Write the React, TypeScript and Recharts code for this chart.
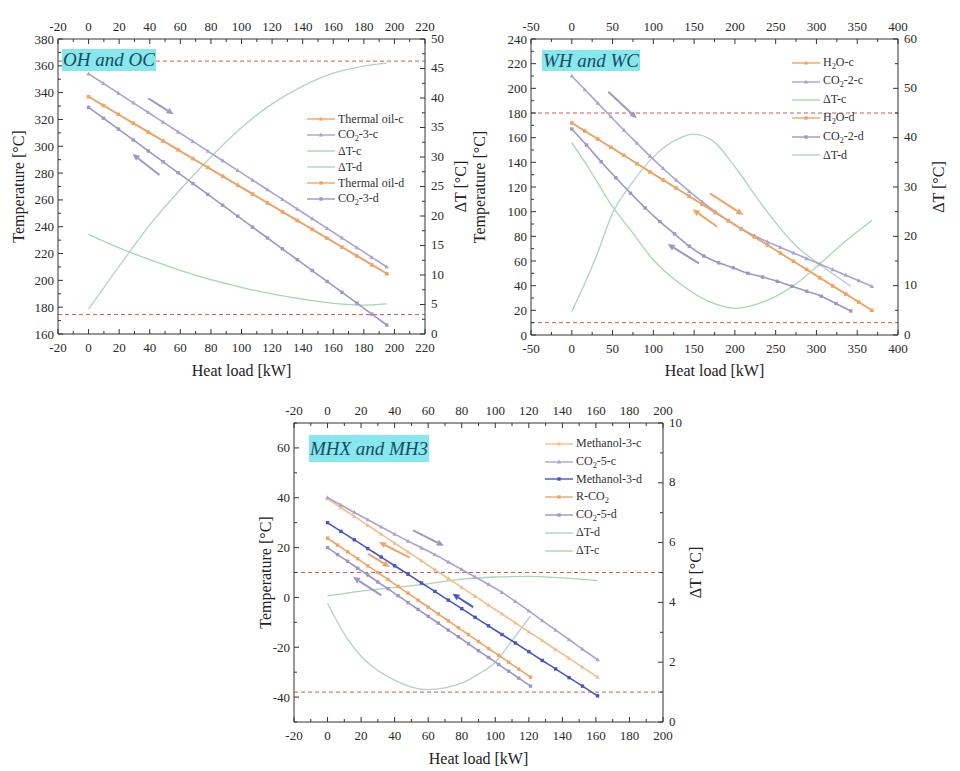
import React from 'react';
import { ComposedChart, Line, XAxis, YAxis, ReferenceLine } from 'recharts';

// ---------- OH and OC ----------
const ohLoad = [0, 9.75, 19.5, 29.25, 39, 48.75, 58.5, 68.25, 78, 87.75, 97.5, 107.25, 117, 126.75, 136.5, 146.25, 156, 165.75, 175.5, 185.25, 195];
const ohThermalOil = [337, 330.4, 323.8, 317.2, 310.6, 304, 297.4, 290.8, 284.2, 277.6, 271, 264.4, 257.8, 251.2, 244.6, 238, 231.4, 224.8, 218.2, 211.6, 205];
const ohCo2c = [354, 346.8, 339.6, 332.4, 325.2, 318, 310.8, 303.6, 296.4, 289.2, 282, 274.8, 267.6, 260.4, 253.2, 246, 238.8, 231.6, 224.4, 217.2, 210];
const ohCo2d = [329, 320.9, 312.8, 304.7, 296.5, 288.4, 280.3, 272.2, 264.1, 256, 247.9, 239.7, 231.6, 223.5, 215.4, 207.3, 199.2, 191.1, 183, 174.8, 166.7];
const ohDtLoad = [0, 20, 40, 60, 80, 100, 120, 140, 160, 180, 195];
const ohDtC = [16.9, 14.6, 12.6, 10.8, 9.2, 7.9, 6.8, 5.9, 5.2, 4.9, 5.1];
const ohDtD = [4.2, 11.5, 18.5, 24.5, 30, 35, 39, 42, 44.2, 45.4, 45.9];
const ohLimits = [363.5, 174.5];
const ohXTicks = [-20, 0, 20, 40, 60, 80, 100, 120, 140, 160, 180, 200, 220];
const ohTTicks = [160, 180, 200, 220, 240, 260, 280, 300, 320, 340, 360, 380];
const ohDtTicks = [0, 5, 10, 15, 20, 25, 30, 35, 40, 45, 50];

// ---------- WH and WC ----------
const whLoad = [0, 16, 32, 48, 64, 80, 96, 112, 128, 144, 160, 176, 192, 208, 224, 240, 256, 272, 288, 304, 320, 336, 352, 368];
const whH2O = [172, 165.4, 158.8, 152.2, 145.6, 139, 132.3, 125.7, 119.1, 112.5, 105.9, 99.3, 92.7, 86.1, 79.5, 72.9, 66.3, 59.7, 53.1, 46.4, 39.8, 33.2, 26.6, 20];
const whCo2c = [210, 199, 188, 177, 166, 155.5, 145, 135, 125.5, 116.5, 108, 100, 92.5, 86, 80.5, 75.5, 71, 66.5, 62, 57.5, 53, 48.5, 44, 39.5];
const whLoadD = [0, 18, 36, 54, 72, 90, 108, 126, 144, 162, 180, 198, 216, 234, 252, 270, 288, 306, 324, 342];
const whCo2d = [167, 154, 140.5, 127.5, 115, 103, 92, 82, 72, 64, 58.5, 54.5, 50, 47, 43.5, 39.5, 35.5, 31.5, 25.5, 19.5];
const whDtLoadC = [0, 22, 50, 72, 100, 132, 174, 200, 235, 276, 300, 337, 368];
const whDtC = [39, 33.5, 26, 21.3, 15.2, 10.5, 6.4, 5.4, 6.7, 10.5, 13.8, 19.2, 23.2];
const whDtLoadD = [0, 30, 50, 72, 100, 132, 149, 174, 200, 235, 276, 300, 342];
const whDtD = [4.7, 15.9, 24.7, 30.4, 36.1, 39.9, 40.7, 39.2, 34.1, 26, 17.9, 14.8, 9.9];
const whLimits = [180, 10];
const whXTicks = [-50, 0, 50, 100, 150, 200, 250, 300, 350, 400];
const whTTicks = [0, 20, 40, 60, 80, 100, 120, 140, 160, 180, 200, 220, 240];
const whDtTicks = [0, 10, 20, 30, 40, 50, 60];

// ---------- MHX and MH3 ----------
const mhLoadLong = [0, 8, 16, 24, 32, 40, 48, 56, 64, 72, 80, 88, 96, 104, 112, 120, 128, 136, 144, 152, 161];
const mhMethanol3c = [39.6, 36, 32.5, 28.9, 25.4, 21.8, 18.3, 14.7, 11.1, 7.6, 4, 0.5, -3.1, -6.6, -10.2, -13.8, -17.3, -20.9, -24.4, -28, -32];
const mhCo25c = [40, 37.1, 34.1, 31.2, 28.3, 25.4, 22.6, 19.9, 17.2, 14.2, 11.2, 8.2, 5.2, 2, -1.6, -5.4, -9.3, -13.1, -16.9, -20.8, -25];
const mhMethanol3d = [30, 26.5, 23.1, 19.6, 16.2, 12.7, 9.3, 5.8, 2.4, -1.1, -4.5, -8, -11.4, -14.9, -18.3, -21.8, -25.3, -28.7, -32.2, -35.6, -39.5];
const mhLoadShort = [0, 6, 12, 18, 24, 30, 36, 42, 48, 54, 60, 66, 72, 78, 84, 90, 96, 102, 108, 114, 121];
const mhRCo2 = [23.8, 21, 18.3, 15.5, 12.7, 10, 7.2, 4.4, 1.7, -1.1, -3.9, -6.6, -9.4, -12.2, -14.9, -17.7, -20.5, -23.2, -26, -28.8, -32];
const mhCo25d = [20, 17.2, 14.5, 11.7, 9, 6.2, 3.5, 0.7, -2.1, -4.8, -7.6, -10.3, -13.1, -15.8, -18.6, -21.4, -24.1, -26.9, -29.6, -32.4, -35.6];
const mhDtLoadD = [0, 10, 20, 30, 40, 50, 60, 70, 80, 90, 100, 110, 121];
const mhDtD = [3.97, 2.95, 2.2, 1.72, 1.4, 1.17, 1.08, 1.14, 1.3, 1.6, 2.0, 2.72, 3.55];
const mhDtLoadC = [0, 20, 40, 60, 80, 100, 120, 140, 161];
const mhDtC = [4.22, 4.38, 4.5, 4.62, 4.78, 4.85, 4.87, 4.82, 4.73];
const mhLimits = [10, -38];
const mhXTicks = [-20, 0, 20, 40, 60, 80, 100, 120, 140, 160, 180, 200];
const mhTTicks = [-40, -20, 0, 20, 40, 60];
const mhDtTicks = [0, 2, 4, 6, 8, 10];

// direction arrows [fromLoad, fromT, toLoad, toT, colour]
const ohArrows = [[38.9, 335.8, 55.6, 323.8, 'p'], [46.4, 278.6, 28.7, 294.2, 'p']];
const whArrows = [[44.8, 197.3, 79.6, 175.7, 'p'], [169.4, 114.9, 210.3, 97.3, 'o'], [178.4, 87.8, 148.2, 101.9, 'o'], [155.9, 58.1, 117.6, 73.8, 'p']];
const mhArrows = [[51, 26.9, 69.3, 20.7, 'p'], [49, 16, 30.7, 22.2, 'o'], [24.2, 17.5, 37.1, 12.2, 'o'], [32.1, 0.8, 15.2, 8.2, 'p'], [86.8, -3.9, 74.5, 1.5, 'b']];

const FONT = "Liberation Serif, Times New Roman, serif";
const ORANGE = '#eea465';
const ORANGE_L = '#f2bf8c';
const PURPLE = '#a8a4d0';
const PURPLE_D = '#9c97c6';
const BLUE = '#4657c4';
const GREEN = '#a6d7ae';
const GREEN2 = '#b3d0cb';
const RED = '#cc5a5a';
const ARROW_COL: Record<string, string> = { p: PURPLE_D, o: ORANGE, b: BLUE };

type Marker = 'tri' | 'sq' | null;
type Series = { name: string; xs: number[]; ys: number[]; color: string; axis: 'l' | 'r'; marker: Marker };

const makeDot = (shape: Marker, color: string) => (p: any) => {
  const { cx, cy, index } = p;
  if (cx == null || cy == null) return <g key={`n${index}`} />;
  if (shape === 'tri') {
    return <polygon key={`d${index}`} points={`${cx},${cy - 2.4} ${cx - 2.2},${cy + 1.6} ${cx + 2.2},${cy + 1.6}`} fill={color} />;
  }
  return <rect key={`d${index}`} x={cx - 1.7} y={cy - 1.7} width={3.4} height={3.4} fill={color} />;
};

const allTicks = (domain: number[], majors: number[]) => {
  const step = (majors[1] - majors[0]) / 2;
  let start = majors[0];
  while (start - step >= domain[0] - 1e-9) start -= step;
  const out: number[] = [];
  for (let v = start; v <= domain[1] + 1e-9; v += step) out.push(Math.round(v * 1000) / 1000);
  return out;
};

const tickRenderer = (side: 'top' | 'bottom' | 'left' | 'right', majors: number[]) => (p: any) => {
  const { x, y, payload } = p;
  const v = payload.value;
  const major = majors.some((m) => Math.abs(m - v) < 1e-6);
  const len = major ? 5 : 3;
  const tp = { fontFamily: FONT, fontSize: 13, fill: '#2a2a2a' };
  let line: React.ReactNode = null;
  let text: React.ReactNode = null;
  if (side === 'bottom') {
    line = <line x1={x} y1={y} x2={x} y2={y - len} stroke="#333" />;
    if (major) text = <text x={x} y={y + 13} textAnchor="middle" dominantBaseline="central" {...tp}>{v}</text>;
  } else if (side === 'top') {
    line = <line x1={x} y1={y} x2={x} y2={y + len} stroke="#333" />;
    if (major) text = <text x={x} y={y - 13} textAnchor="middle" dominantBaseline="central" {...tp}>{v}</text>;
  } else if (side === 'left') {
    line = <line x1={x} y1={y} x2={x + len} y2={y} stroke="#333" />;
    if (major) text = <text x={x - 4} y={y} textAnchor="end" dominantBaseline="central" {...tp}>{v}</text>;
  } else {
    line = <line x1={x} y1={y} x2={x - len} y2={y} stroke="#333" />;
    if (major) text = <text x={x + 6} y={y - 1} textAnchor="start" dominantBaseline="central" {...tp}>{v}</text>;
  }
  return <g>{line}{text}</g>;
};

const ArrowShape = (p: any) => {
  const { x1, y1, x2, y2, stroke } = p;
  if ([x1, y1, x2, y2].some((n) => n == null || isNaN(n))) return <g />;
  const ang = Math.atan2(y2 - y1, x2 - x1);
  const L = 7;
  const W = 3.2;
  const bx = x2 - L * Math.cos(ang);
  const by = y2 - L * Math.sin(ang);
  const px = -Math.sin(ang) * W;
  const py = Math.cos(ang) * W;
  return (
    <g>
      <line x1={x1} y1={y1} x2={bx} y2={by} stroke={stroke} strokeWidth={2} />
      <polygon points={`${x2},${y2} ${bx + px},${by + py} ${bx - px},${by - py}`} fill={stroke} />
    </g>
  );
};

const fmtName = (name: string) =>
  name.split(/(CO2|H2O)/).map((part, i) => {
    if (part === 'CO2') return <span key={i}>CO<sub style={{ fontSize: '0.7em' }}>2</sub></span>;
    if (part === 'H2O') return <span key={i}>H<sub style={{ fontSize: '0.7em' }}>2</sub>O</span>;
    return <span key={i}>{part}</span>;
  });

type PanelProps = {
  box: { left: number; top: number; width: number; height: number };
  axesSize: { l: number; r: number; t: number; b: number };
  xDomain: number[]; xTicks: number[];
  tDomain: number[]; tTicks: number[];
  dDomain: number[]; dTicks: number[];
  series: Series[]; legendOrder: string[];
  limits: number[]; arrows: any[];
  titleOffsets: { l: number; r: number; b: number };
  tag: { text: string; left: number; top: number; width: number; height: number };
  legend: { left: number; top: number; rowH: number };
};

const Panel = (P: PanelProps) => {
  const titleStyle = { fontFamily: FONT, fontSize: 16, fill: '#222', textAnchor: 'middle' as const };
  const byName = Object.fromEntries(P.series.map((s) => [s.name, s]));
  return (
    <>
      <div style={{ position: 'absolute', left: P.box.left, top: P.box.top, fontFamily: FONT }}>
        <ComposedChart width={P.box.width} height={P.box.height} margin={{ top: 0, right: 0, bottom: 0, left: 0 }} style={{ fontFamily: FONT }}>
          <XAxis xAxisId="b" dataKey="x" type="number" orientation="bottom" domain={P.xDomain} allowDataOverflow
            ticks={allTicks(P.xDomain, P.xTicks)} interval={0} height={P.axesSize.b} tickSize={0} tickMargin={0}
            tickLine={false} axisLine={{ stroke: '#333' }} tick={tickRenderer('bottom', P.xTicks)}
            label={{ value: 'Heat load [kW]', position: 'insideBottom', offset: P.titleOffsets.b, style: titleStyle }} />
          <XAxis xAxisId="t" dataKey="x" type="number" orientation="top" domain={P.xDomain} allowDataOverflow
            ticks={allTicks(P.xDomain, P.xTicks)} interval={0} height={P.axesSize.t} tickSize={0} tickMargin={0}
            tickLine={false} axisLine={{ stroke: '#333' }} tick={tickRenderer('top', P.xTicks)} />
          <YAxis yAxisId="l" type="number" orientation="left" domain={P.tDomain} allowDataOverflow
            ticks={allTicks(P.tDomain, P.tTicks)} interval={0} width={P.axesSize.l} tickSize={0} tickMargin={0}
            tickLine={false} axisLine={{ stroke: '#333' }} tick={tickRenderer('left', P.tTicks)}
            label={{ value: 'Temperature [°C]', angle: -90, position: 'insideLeft', offset: P.titleOffsets.l, style: titleStyle }} />
          <YAxis yAxisId="r" type="number" orientation="right" domain={P.dDomain} allowDataOverflow
            ticks={allTicks(P.dDomain, P.dTicks)} interval={0} width={P.axesSize.r} tickSize={0} tickMargin={0}
            tickLine={false} axisLine={{ stroke: '#333' }} tick={tickRenderer('right', P.dTicks)}
            label={{ value: 'ΔT [°C]', angle: -90, position: 'insideRight', offset: P.titleOffsets.r, style: titleStyle }} />
          {P.limits.map((v, i) => (
            <ReferenceLine key={`lim${i}`} xAxisId="b" yAxisId="l" y={v} stroke={RED} strokeDasharray="4 3" strokeWidth={1} />
          ))}
          {P.series.filter((s) => s.axis === 'r').concat(P.series.filter((s) => s.axis === 'l')).map((s) => (
            <Line key={s.name} name={s.name} xAxisId="b" yAxisId={s.axis} dataKey="y" type="monotone"
              data={s.xs.map((x, i) => ({ x, y: s.ys[i] }))} stroke={s.color} strokeWidth={s.axis === 'r' ? 1.3 : 1.6}
              dot={s.marker ? makeDot(s.marker, s.color) : false} activeDot={false} isAnimationActive={false} />
          ))}
          {P.arrows.map((a, i) => (
            <ReferenceLine key={`arr${i}`} xAxisId="b" yAxisId="l" segment={[{ x: a[0], y: a[1] }, { x: a[2], y: a[3] }]}
              stroke={ARROW_COL[a[4]]} shape={ArrowShape} />
          ))}
        </ComposedChart>
      </div>
      <div style={{
        position: 'absolute', left: P.tag.left, top: P.tag.top, width: P.tag.width, height: P.tag.height,
        background: '#86e7ed', fontFamily: FONT, fontStyle: 'italic', fontSize: 19, color: '#1d4a63',
        display: 'flex', alignItems: 'center', justifyContent: 'center', whiteSpace: 'nowrap',
      }}>{P.tag.text}</div>
      <div style={{ position: 'absolute', left: P.legend.left, top: P.legend.top, fontFamily: FONT, fontSize: 12, color: '#333' }}>
        {P.legendOrder.map((n) => {
          const s = byName[n];
          return (
            <div key={n} style={{ display: 'flex', alignItems: 'center', height: P.legend.rowH, whiteSpace: 'nowrap' }}>
              <svg width={28} height={10} style={{ marginRight: 3 }}>
                <line x1={0} y1={5} x2={28} y2={5} stroke={s.color} strokeWidth={1.4} />
                {s.marker === 'tri' && <polygon points="14,2.6 11.8,6.6 16.2,6.6" fill={s.color} />}
                {s.marker === 'sq' && <rect x={12.3} y={3.3} width={3.4} height={3.4} fill={s.color} />}
              </svg>
              <span>{fmtName(n)}</span>
            </div>
          );
        })}
      </div>
    </>
  );
};

const ohSeries: Series[] = [
  { name: 'Thermal oil-c', xs: ohLoad, ys: ohThermalOil, color: ORANGE, axis: 'l', marker: 'tri' },
  { name: 'CO2-3-c', xs: ohLoad, ys: ohCo2c, color: PURPLE, axis: 'l', marker: 'tri' },
  { name: 'ΔT-c', xs: ohDtLoad, ys: ohDtC, color: GREEN, axis: 'r', marker: null },
  { name: 'ΔT-d', xs: ohDtLoad, ys: ohDtD, color: GREEN2, axis: 'r', marker: null },
  { name: 'Thermal oil-d', xs: ohLoad, ys: ohThermalOil, color: ORANGE, axis: 'l', marker: 'sq' },
  { name: 'CO2-3-d', xs: ohLoad, ys: ohCo2d, color: PURPLE_D, axis: 'l', marker: 'sq' },
];

const whSeries: Series[] = [
  { name: 'H2O-c', xs: whLoad, ys: whH2O, color: ORANGE, axis: 'l', marker: 'tri' },
  { name: 'CO2-2-c', xs: whLoad, ys: whCo2c, color: PURPLE, axis: 'l', marker: 'tri' },
  { name: 'ΔT-c', xs: whDtLoadC, ys: whDtC, color: GREEN, axis: 'r', marker: null },
  { name: 'H2O-d', xs: whLoad, ys: whH2O, color: ORANGE, axis: 'l', marker: 'sq' },
  { name: 'CO2-2-d', xs: whLoadD, ys: whCo2d, color: PURPLE_D, axis: 'l', marker: 'sq' },
  { name: 'ΔT-d', xs: whDtLoadD, ys: whDtD, color: GREEN2, axis: 'r', marker: null },
];

const mhSeries: Series[] = [
  { name: 'Methanol-3-c', xs: mhLoadLong, ys: mhMethanol3c, color: ORANGE_L, axis: 'l', marker: 'tri' },
  { name: 'CO2-5-c', xs: mhLoadLong, ys: mhCo25c, color: PURPLE, axis: 'l', marker: 'tri' },
  { name: 'Methanol-3-d', xs: mhLoadLong, ys: mhMethanol3d, color: BLUE, axis: 'l', marker: 'sq' },
  { name: 'R-CO2', xs: mhLoadShort, ys: mhRCo2, color: ORANGE, axis: 'l', marker: 'sq' },
  { name: 'CO2-5-d', xs: mhLoadShort, ys: mhCo25d, color: PURPLE_D, axis: 'l', marker: 'sq' },
  { name: 'ΔT-d', xs: mhDtLoadD, ys: mhDtD, color: GREEN2, axis: 'r', marker: null },
  { name: 'ΔT-c', xs: mhDtLoadC, ys: mhDtC, color: GREEN, axis: 'r', marker: null },
];

export default function App() {
  return (
    <div style={{ position: 'absolute', left: 0, top: 0, width: 960, height: 771, background: '#fff', overflow: 'hidden' }}>
      <Panel
        box={{ left: 0, top: 0, width: 480, height: 380 }}
        axesSize={{ l: 58, r: 55, t: 39, b: 46 }}
        xDomain={[-20, 220]} xTicks={ohXTicks}
        tDomain={[160, 380]} tTicks={ohTTicks}
        dDomain={[0, 50]} dTicks={ohDtTicks}
        series={ohSeries} legendOrder={ohSeries.map((s) => s.name)}
        limits={ohLimits} arrows={ohArrows}
        titleOffsets={{ l: 18, r: 20, b: 4 }}
        tag={{ text: 'OH and OC', left: 62, top: 49, width: 94, height: 22 }}
        legend={{ left: 307, top: 111, rowH: 16 }}
      />
      <Panel
        box={{ left: 470, top: 0, width: 490, height: 380 }}
        axesSize={{ l: 61, r: 62, t: 39, b: 45 }}
        xDomain={[-50, 400]} xTicks={whXTicks}
        tDomain={[0, 240]} tTicks={whTTicks}
        dDomain={[0, 60]} dTicks={whDtTicks}
        series={whSeries} legendOrder={whSeries.map((s) => s.name)}
        limits={whLimits} arrows={whArrows}
        titleOffsets={{ l: 9, r: 22, b: 4 }}
        tag={{ text: 'WH and WC', left: 542, top: 50, width: 98, height: 21 }}
        legend={{ left: 792, top: 54, rowH: 18.4 }}
      />
      <Panel
        box={{ left: 250, top: 380, width: 460, height: 391 }}
        axesSize={{ l: 44, r: 47, t: 43, b: 49 }}
        xDomain={[-20, 200]} xTicks={mhXTicks}
        tDomain={[-50, 70]} tTicks={mhTTicks}
        dDomain={[0, 10]} dTicks={mhDtTicks}
        series={mhSeries} legendOrder={mhSeries.map((s) => s.name)}
        limits={mhLimits} arrows={mhArrows}
        titleOffsets={{ l: 15, r: 15, b: 7 }}
        tag={{ text: 'MHX and MH3', left: 309, top: 435, width: 120, height: 27 }}
        legend={{ left: 545, top: 435, rowH: 17.8 }}
      />
    </div>
  );
}
